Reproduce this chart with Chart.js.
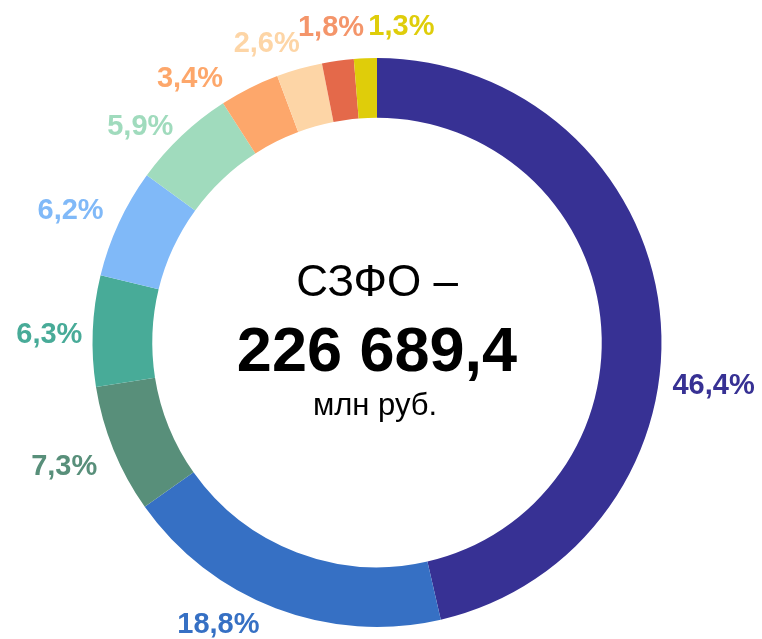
<!DOCTYPE html>
<html><head><meta charset="utf-8">
<script src="https://cdn.jsdelivr.net/npm/chart.js@4"></script>
<style>html,body{margin:0;padding:0;background:#fff}#wrap{width:762px;height:639px}</style>
</head><body><div id="wrap"><canvas id="c" width="762" height="639"></canvas></div>
<script>
const categories = ['s1','s2','s3','s4','s5','s6','s7','s8','s9','s10'];
const values = [46.4, 18.8, 7.3, 6.3, 6.2, 5.9, 3.4, 2.6, 1.8, 1.3];
const valueLabels = ['46,4%','18,8%','7,3%','6,3%','6,2%','5,9%','3,4%','2,6%','1,8%','1,3%'];
const centerTitle = 'СЗФО –';
const centerValue = '226 689,4';
const centerUnit = 'млн руб.';

const colors = ['#373194','#3670c4','#588f7a','#48ab98','#80b9f8','#a0dbbd','#fda76b','#fdd5a6','#e4694a','#dfcd0a'];
const labelColors = ['#373194','#3670c4','#588f7a','#48ab98','#80b9f8','#a0dbbd','#fda76b','#fdd5a6','#f4956a','#dfcd0a'];

const labelPlugin = {
  id: 'outLabels',
  afterDatasetsDraw(chart, args, opts) {
    const ctx = chart.ctx;
    const meta = chart.getDatasetMeta(0);
    ctx.save();
    ctx.font = 'bold 29px "Liberation Sans", Arial, sans-serif';
    ctx.textAlign = 'center';
    ctx.textBaseline = 'middle';
    meta.data.forEach((arc, i) => {
      const p = arc.getProps(['x','y','startAngle','endAngle','outerRadius'], true);
      const mid = (p.startAngle + p.endAngle) / 2;
      const w = 66 * valueLabels[i].length / 4;
      const h = 22;
      const c = Math.cos(mid), s = Math.sin(mid);
      const r = p.outerRadius + opts.gap + Math.abs(c) * w / 2 + Math.abs(s) * h / 2;
      const n = opts.nudge[i] || [0,0];
      ctx.fillStyle = labelColors[i];
      ctx.fillText(valueLabels[i], p.x + c * r + n[0], p.y + s * r + n[1]);
    });
    // center text
    const a = meta.data[0];
    const cx = a.x, cy = a.y;
    ctx.fillStyle = '#000';
    ctx.textBaseline = 'alphabetic';
    ctx.font = '44px "Liberation Sans", Arial, sans-serif';
    ctx.fillText(centerTitle, cx, cy - 47);
    ctx.font = 'bold 63px "Liberation Sans", Arial, sans-serif';
    ctx.fillText(centerValue, cx, cy + 28);
    ctx.font = '31px "Liberation Sans", Arial, sans-serif';
    ctx.fillText(centerUnit, cx - 2, cy + 72);
    ctx.restore();
  }
};

new Chart(document.getElementById('c'), {
  type: 'doughnut',
  data: { labels: categories, datasets: [{ data: values, backgroundColor: colors, borderWidth: 0 }] },
  options: {
    responsive: false,
    animation: false,
    cutout: '79%',
    layout: { padding: { left: 92, right: 100, top: 58, bottom: 12 } },
    plugins: {
      legend: { display: false },
      tooltip: { enabled: false },
      outLabels: { gap: 12, nudge: [[0,82],[-44,-18],[-6,0],[2,6],[-6,8],[-12,22],[-43,24],[-24,6],[-3,-6],[37,-7]] }
    }
  },
  plugins: [labelPlugin]
});
</script></body></html>
